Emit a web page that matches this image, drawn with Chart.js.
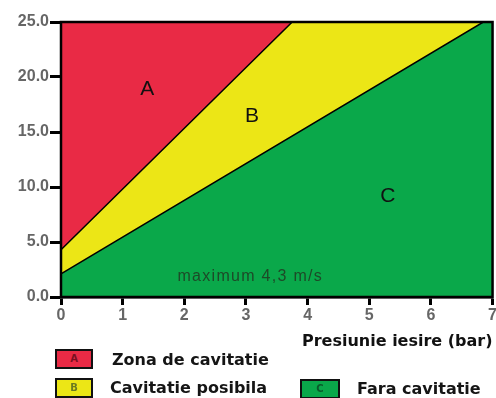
<!DOCTYPE html>
<html>
<head>
<meta charset="utf-8">
<script src="https://cdn.jsdelivr.net/npm/chart.js@4.4.1/dist/chart.umd.min.js"></script>
<style>
  html, body { margin: 0; padding: 0; background: #fff; overflow: hidden; }
  #wrap { position: relative; width: 496px; height: 398px; overflow: hidden; }
  #plot { position: absolute; left: 0; top: 0; width: 498px; height: 398px; }
  .key { position: absolute; height: 16px; border: 2px solid #111; text-align: center;
         font: bold 10px "DejaVu Sans", sans-serif; line-height: 16px; }
  .key-label { position: absolute; font: bold 16px "DejaVu Sans", sans-serif; color: #151515; white-space: nowrap; }
</style>
</head>
<body>
<div id="wrap">
  <div id="plot"><canvas id="zoneChart"></canvas></div>
  <div class="key" style="left:55px;top:349px;width:34px;background:#e92a45;color:#7a1020">A</div>
  <div class="key-label" style="left:112px;top:350px">Zona de cavitatie</div>
  <div class="key" style="left:55px;top:378px;width:34px;background:#ece616;color:#6a7a20">B</div>
  <div class="key-label" style="left:110px;top:378px">Cavitatie posibila</div>
  <div class="key" style="left:300px;top:379px;width:36px;background:#0aa84a;color:#0a5a2a">C</div>
  <div class="key-label" style="left:357px;top:379px">Fara cavitatie</div>
</div>
<script>
  // zone boundaries: outlet pressure (bar) vs flow speed
  const cavitationX = [0, 3.75, 7];
  const cavitationY = [4.3, 25, 25];
  const safeX = [0, 6.85, 7];
  const safeY = [2.1, 25, 25];
  const topX = [0, 7];
  const topY = [25, 25];

  const zoneLabels = ['A', 'B', 'C'];
  const zoneLabelX = [1.4, 3.1, 5.3];
  const zoneLabelY = [18.9, 16.4, 9.2];
  const noteText = 'maximum 4,3 m/s';
  const noteX = 3.07;
  const noteY = 1.9;

  const RED = '#e92a45', YELLOW = '#ece616', GREEN = '#0aa84a';

  const toPoints = (xs, ys) => xs.map((x, i) => ({ x: x, y: ys[i] }));

  const zoneText = {
    id: 'zoneText',
    afterDatasetsDraw(chart) {
      const { ctx, chartArea, scales: { x, y } } = chart;
      ctx.save();
      ctx.textAlign = 'center';
      ctx.textBaseline = 'middle';
      ctx.fillStyle = '#111';
      ctx.font = '21px "Liberation Sans", Arial, sans-serif';
      zoneLabels.forEach((t, i) => {
        ctx.fillText(t, x.getPixelForValue(zoneLabelX[i]), y.getPixelForValue(zoneLabelY[i]));
      });
      ctx.font = '16px "Liberation Sans", Arial, sans-serif';
      ctx.letterSpacing = '1.3px';
      ctx.fillStyle = '#1d4a28';
      ctx.fillText(noteText, x.getPixelForValue(noteX), y.getPixelForValue(noteY));
      // frame round the plot
      ctx.letterSpacing = '0px';
      ctx.strokeStyle = '#000';
      ctx.lineWidth = 2.5;
      ctx.strokeRect(chartArea.left, chartArea.top, chartArea.right - chartArea.left, chartArea.bottom - chartArea.top);
      ctx.restore();
    }
  };

  const tickFont = { family: '"Liberation Sans", Arial, sans-serif', size: 16, weight: 'bold' };

  new Chart(document.getElementById('zoneChart'), {
    type: 'scatter',
    data: {
      datasets: [
        { data: toPoints(safeX, safeY), showLine: true, fill: 'start', backgroundColor: GREEN,
          borderColor: '#000', borderWidth: 1.5, pointRadius: 0 },
        { data: toPoints(cavitationX, cavitationY), showLine: true, fill: 'start', backgroundColor: YELLOW,
          borderColor: '#000', borderWidth: 1.5, pointRadius: 0 },
        { data: toPoints(topX, topY), showLine: true, fill: 'start', backgroundColor: RED,
          borderWidth: 0, pointRadius: 0 }
      ]
    },
    options: {
      responsive: true,
      maintainAspectRatio: false,
      animation: false,
      layout: { padding: { top: 22, right: 0, bottom: 47, left: 0 } },
      plugins: { legend: { display: false }, tooltip: { enabled: false } },
      scales: {
        x: {
          type: 'linear', min: 0, max: 7,
          ticks: { stepSize: 1, color: '#666', font: tickFont, padding: 1 },
          grid: { drawOnChartArea: false, tickLength: 8, tickWidth: 3, tickColor: '#000' },
          border: { color: '#000', width: 2.5 },
          title: { display: true, text: 'Presiunie iesire (bar)', align: 'end', color: '#111',
                   font: { family: '"DejaVu Sans", sans-serif', size: 16, weight: 'bold' },
                   padding: { top: 0, bottom: 0 } },
          afterFit(scale) { scale.height = 54; }
        },
        y: {
          min: 0, max: 25,
          ticks: { stepSize: 5, color: '#666', font: tickFont, padding: 1,
                   callback: v => v.toFixed(1) },
          grid: { drawOnChartArea: false, tickLength: 11, tickWidth: 3, tickColor: '#000' },
          border: { color: '#000', width: 2.5 },
          afterFit(scale) { scale.width = 61; }
        }
      }
    },
    plugins: [zoneText]
  });
</script>
</body>
</html>
